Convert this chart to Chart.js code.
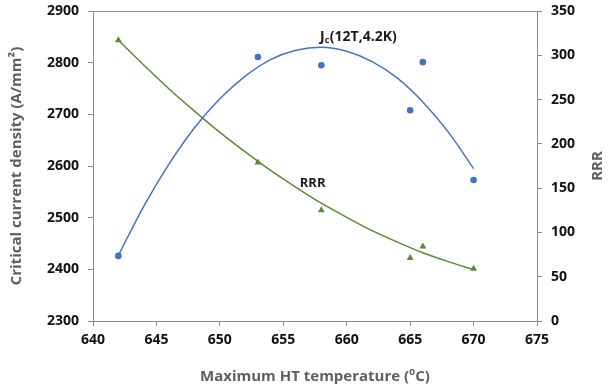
<!DOCTYPE html>
<html><head><meta charset="utf-8">
<script src="https://cdn.jsdelivr.net/npm/chart.js@4"></script>
<style>html,body{margin:0;padding:0;background:#fff}#c{display:block}</style>
</head><body>
<canvas id="c" width="613" height="388"></canvas>
<script>
// Measured data
const jcTemps   = [642, 653, 658, 665, 666, 670];
const jcValues  = [2426, 2811, 2795, 2708, 2801, 2573];
const rrrTemps  = [642, 653, 658, 665, 666, 670];
const rrrValues = [317, 179, 125, 71, 84, 59];
// Trend curves
const fitTemps  = [642, 644, 646, 648, 650, 652, 654, 656, 658, 660, 662, 664, 666, 668, 670];
const jcFit     = [2427, 2522, 2604, 2674, 2730, 2774, 2806, 2824, 2830, 2822, 2802, 2770, 2724, 2666, 2595];
const rrrFit    = [317, 289, 262, 237, 213, 191, 170, 151, 133, 117, 102, 89, 77, 67, 58];
// Axes
const xTickValues = [640, 645, 650, 655, 660, 665, 670, 675];
const jcTickValues = [2300, 2400, 2500, 2600, 2700, 2800, 2900];
const rrrTickValues = [0, 50, 100, 150, 200, 250, 300, 350];
const xTitle = ['Maximum HT temperature (', 'o', 'C)'];
const yLeftTitle = 'Critical current density (A/mm\u00B2)';
const yRightTitle = 'RRR';
const jcLabel = ['J', 'c', '(12T,4.2K)'];
const rrrLabel = 'RRR';

const BLUE = '#4472C4', GREEN = '#5A8A32', AXIS = '#8C8C8C', TITLE = '#5F5F5F';
const FONT = "'Open Sans', sans-serif";

const pts = (xs, ys) => xs.map((x, i) => ({x, y: ys[i]}));

const annot = {
  id: 'annot',
  afterDraw(chart) {
    const {ctx, chartArea: a, scales} = chart;
    ctx.save();
    // top frame line
    ctx.strokeStyle = AXIS; ctx.lineWidth = 1;
    ctx.beginPath(); ctx.moveTo(a.left, Math.round(a.top) + 0.5); ctx.lineTo(a.right, Math.round(a.top) + 0.5); ctx.stroke();
    const big = 'bold 15px ' + FONT, small = 'bold 10px ' + FONT;
    // x title with superscript
    ctx.fillStyle = TITLE; ctx.textBaseline = 'alphabetic';
    ctx.font = big; const w1 = ctx.measureText(xTitle[0]).width, w3 = ctx.measureText(xTitle[2]).width;
    ctx.font = small; const w2 = ctx.measureText(xTitle[1]).width;
    let x = (a.left + a.right) / 2 - (w1 + w2 + w3) / 2, y = 381;
    ctx.font = big; ctx.fillText(xTitle[0], x, y); x += w1;
    ctx.font = small; ctx.fillText(xTitle[1], x, y - 6); x += w2;
    ctx.font = big; ctx.fillText(xTitle[2], x, y);
    // right title, reading bottom to top
    ctx.save();
    ctx.translate(598, (a.top + a.bottom) / 2); ctx.rotate(-Math.PI / 2);
    ctx.textAlign = 'center'; ctx.textBaseline = 'middle'; ctx.font = big;
    ctx.fillText(yRightTitle, 0, 0);
    ctx.restore();
    // Jc label
    ctx.fillStyle = '#1A1A1A';
    const lx = scales.x.getPixelForValue(657.9), ly = scales.y.getPixelForValue(2850);
    const f1 = 'bold 14px ' + FONT, f2 = 'bold 9px ' + FONT;
    ctx.textBaseline = 'middle';
    ctx.font = f1; ctx.fillText(jcLabel[0], lx, ly); let px = lx + ctx.measureText(jcLabel[0]).width;
    ctx.font = f2; ctx.fillText(jcLabel[1], px, ly + 4); px += ctx.measureText(jcLabel[1]).width + 0.5;
    ctx.font = f1; ctx.fillText(jcLabel[2], px, ly);
    // RRR label
    ctx.font = 'bold 13px ' + FONT;
    const rx = scales.x.getPixelForValue(656.3), ry = scales.y2.getPixelForValue(156);
    ctx.fillText(rrrLabel, rx, ry);
    ctx.restore();
  }
};

const tickFont = {family: FONT, size: 14, weight: 'bold'};
const noPad = s => { s.paddingTop = 0; s.paddingBottom = 0; s.paddingLeft = 0; s.paddingRight = 0; };

new Chart(document.getElementById('c'), {
  type: 'line',
  data: {
    datasets: [
      {data: pts(fitTemps, jcFit), yAxisID: 'y', borderColor: BLUE, borderWidth: 1.5, pointRadius: 0, tension: 0.4, cubicInterpolationMode: 'monotone', fill: false},
      {data: pts(fitTemps, rrrFit), yAxisID: 'y2', borderColor: GREEN, borderWidth: 1.5, pointRadius: 0, tension: 0.4, cubicInterpolationMode: 'monotone', fill: false},
      {data: pts(jcTemps, jcValues), yAxisID: 'y', showLine: false, pointStyle: 'circle', pointRadius: 3.3, backgroundColor: BLUE, borderColor: BLUE, borderWidth: 0},
      {data: pts(rrrTemps, rrrValues), yAxisID: 'y2', showLine: false, pointStyle: 'triangle', pointRadius: 4, backgroundColor: GREEN, borderColor: GREEN, borderWidth: 0}
    ]
  },
  options: {
    responsive: false, animation: false,
    layout: {padding: {top: 11, left: 0, right: 0, bottom: 0}},
    plugins: {legend: {display: false}, tooltip: {enabled: false}},
    scales: {
      x: {
        type: 'linear', min: 640, max: 675,
        afterBuildTicks: s => { s.ticks = xTickValues.map(v => ({value: v})); },
        afterFit: s => { s.height = 67; noPad(s); },
        grid: {drawOnChartArea: false, drawTicks: true, tickLength: 5, color: AXIS},
        border: {color: AXIS, width: 1},
        ticks: {color: '#111', padding: 6, font: tickFont, callback: v => String(v)}
      },
      y: {
        position: 'left', min: 2300, max: 2900,
        afterBuildTicks: s => { s.ticks = jcTickValues.map(v => ({value: v})); },
        afterFit: s => { s.width = 93; noPad(s); },
        grid: {drawOnChartArea: false, tickLength: 5, color: AXIS},
        border: {color: AXIS, width: 1},
        ticks: {color: '#111', padding: 9, font: tickFont, callback: v => String(v)},
        title: {display: true, text: yLeftTitle, color: TITLE, padding: {top: 8, bottom: 0}, font: {family: FONT, size: 15, weight: 'bold'}}
      },
      y2: {
        position: 'right', min: 0, max: 350,
        afterBuildTicks: s => { s.ticks = rrrTickValues.map(v => ({value: v})); },
        afterFit: s => { s.width = 76; noPad(s); },
        grid: {drawOnChartArea: false, tickLength: 5, color: AXIS},
        border: {color: AXIS, width: 1},
        ticks: {color: '#111', padding: 9, font: tickFont, callback: v => String(v)}
      }
    }
  },
  plugins: [annot]
});
</script>
</body></html>
